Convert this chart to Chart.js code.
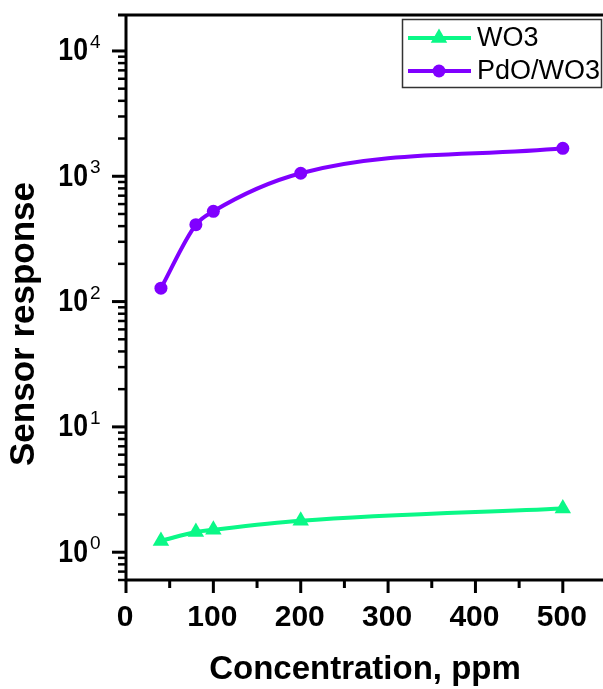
<!DOCTYPE html>
<html>
<head>
<meta charset="utf-8">
<script src="https://cdn.jsdelivr.net/npm/chart.js@4.4.1/dist/chart.umd.min.js"></script>
<style>
  html, body { margin: 0; padding: 0; background: #fff; overflow: hidden; }
  #wrap { width: 603px; height: 689px; }
</style>
</head>
<body>
<div id="wrap"><canvas id="chart" width="603" height="689"></canvas></div>
<script>
// data
var concentrations = [40, 80, 100, 200, 500];
var wo3Response = [1.23, 1.45, 1.51, 1.78, 2.23];
var pdoResponse = [128, 411, 525, 1057, 1670];
var seriesLabels = ['WO3', 'PdO/WO3'];
var xTickValues = [0, 100, 200, 300, 400, 500];
var yDecades = [0, 1, 2, 3, 4];
var xTitle = 'Concentration, ppm';
var yTitle = 'Sensor response';

var green = 'rgb(10,248,135)';
var purple = 'rgb(128,0,255)';
var fontFamily = '"Liberation Sans", Arial, sans-serif';

function toPoints(xs, ys) {
    return xs.map(function(x, i) { return { x: x, y: ys[i] }; });
}

function drawMarker(ctx, style, x, y, r, color) {
    ctx.save();
    ctx.fillStyle = color;
    ctx.beginPath();
    if (style === 'triangle') {
        ctx.moveTo(x, y - r);
        ctx.lineTo(x + r * 0.866, y + r * 0.5);
        ctx.lineTo(x - r * 0.866, y + r * 0.5);
        ctx.closePath();
    } else {
        ctx.arc(x, y, r, 0, Math.PI * 2);
    }
    ctx.fill();
    ctx.restore();
}

// axes frame, ticks, labels, titles and legend
var framePlugin = {
    id: 'frame',
    afterDraw: function(chart) {
        var ctx = chart.ctx;
        var area = chart.chartArea;
        var xs = chart.scales.x;
        var ys = chart.scales.y;
        ctx.save();
        ctx.strokeStyle = '#000';
        ctx.lineWidth = 3;
        ctx.lineCap = 'butt';

        // top, left and bottom lines
        ctx.beginPath();
        ctx.moveTo(118, area.top);
        ctx.lineTo(chart.width, area.top);
        ctx.moveTo(area.left, area.top - 1.5);
        ctx.lineTo(area.left, area.bottom + 1.5);
        ctx.moveTo(area.left - 1.5, area.bottom);
        ctx.lineTo(chart.width, area.bottom);
        ctx.stroke();

        // x ticks
        for (var v = 0; v <= 550; v += 50) {
            if (v > xs.max) continue;
            var px = xs.getPixelForValue(v);
            var len = (v % 100 === 0) ? 13 : 8;
            ctx.beginPath();
            ctx.moveTo(px, area.bottom);
            ctx.lineTo(px, area.bottom + len);
            ctx.stroke();
        }

        // y ticks
        for (var d = -1; d <= 4; d++) {
            for (var m = 1; m <= 9; m++) {
                var val = m * Math.pow(10, d);
                if (val < ys.min || val > ys.max) continue;
                var py = ys.getPixelForValue(val);
                var l = (m === 1) ? 14 : 8;
                ctx.lineWidth = (m === 1) ? 3 : 2.5;
                ctx.beginPath();
                ctx.moveTo(area.left, py);
                ctx.lineTo(area.left - l, py);
                ctx.stroke();
            }
        }

        // x tick labels
        ctx.fillStyle = '#000';
        ctx.font = 'bold 30px ' + fontFamily;
        ctx.textAlign = 'center';
        ctx.textBaseline = 'alphabetic';
        xTickValues.forEach(function(v) {
            ctx.fillText(String(v), xs.getPixelForValue(v) - 1, 626);
        });

        // y tick labels 10^n (base is a bit condensed in the original)
        yDecades.forEach(function(n) {
            var py = ys.getPixelForValue(Math.pow(10, n));
            ctx.save();
            ctx.translate(88, py + 1);
            ctx.scale(0.86, 1);
            ctx.font = 'bold 31px ' + fontFamily;
            ctx.textAlign = 'right';
            ctx.textBaseline = 'middle';
            ctx.fillText('10', 0, 0);
            ctx.restore();
            ctx.font = '19px ' + fontFamily;
            ctx.textAlign = 'left';
            ctx.textBaseline = 'alphabetic';
            ctx.fillText(String(n), 90, py - 3);
        });

        // axis titles
        ctx.font = 'bold 33px ' + fontFamily;
        ctx.textAlign = 'center';
        ctx.textBaseline = 'middle';
        ctx.fillText(xTitle, 365, 670);
        ctx.save();
        ctx.translate(24, 324);
        ctx.rotate(-Math.PI / 2);
        ctx.font = 'bold 35px ' + fontFamily;
        ctx.fillText(yTitle, 0, 0);
        ctx.restore();

        // legend
        ctx.lineWidth = 1.5;
        ctx.strokeStyle = '#333';
        ctx.strokeRect(402.5, 19.5, 199, 68);
        var rows = [38, 71];
        chart.data.datasets.forEach(function(ds, i) {
            var ly = rows[i];
            ctx.strokeStyle = ds.borderColor;
            ctx.lineWidth = 4;
            ctx.beginPath();
            ctx.moveTo(408, ly);
            ctx.lineTo(471, ly);
            ctx.stroke();
            drawMarker(ctx, ds.pointStyle, 439, ly, ds.pointRadius, ds.borderColor);
            ctx.fillStyle = '#000';
            ctx.font = '27px ' + fontFamily;
            ctx.textAlign = 'left';
            ctx.textBaseline = 'middle';
            ctx.fillText(ds.label, 477, ly + 1);
        });
        ctx.restore();
    }
};

var chart = new Chart(document.getElementById('chart'), {
    type: 'line',
    data: {
        datasets: [
            {
                label: seriesLabels[0],
                data: toPoints(concentrations, wo3Response),
                borderColor: green,
                backgroundColor: green,
                borderWidth: 4,
                pointStyle: 'triangle',
                pointRadius: 9.5,
                pointBorderWidth: 0,
                cubicInterpolationMode: 'monotone'
            },
            {
                label: seriesLabels[1],
                data: toPoints(concentrations, pdoResponse),
                borderColor: purple,
                backgroundColor: purple,
                borderWidth: 4,
                pointStyle: 'circle',
                pointRadius: 6.5,
                pointBorderWidth: 0,
                cubicInterpolationMode: 'monotone'
            }
        ]
    },
    options: {
        responsive: false,
        devicePixelRatio: 1,
        animation: false,
        layout: { autoPadding: false, padding: { top: 15, right: 0, left: 0, bottom: 0 } },
        plugins: {
            legend: { display: false },
            tooltip: { enabled: false }
        },
        scales: {
            x: {
                type: 'linear',
                min: 0,
                max: 546,
                grid: { display: false },
                border: { display: false },
                ticks: { display: false },
                afterFit: function(scale) { scale.height = 109; }
            },
            y: {
                type: 'logarithmic',
                min: 0.609,
                max: 19360,
                grid: { display: false },
                border: { display: false },
                ticks: { display: false },
                afterFit: function(scale) { scale.width = 126; }
            }
        }
    },
    plugins: [framePlugin]
});
</script>
</body>
</html>
